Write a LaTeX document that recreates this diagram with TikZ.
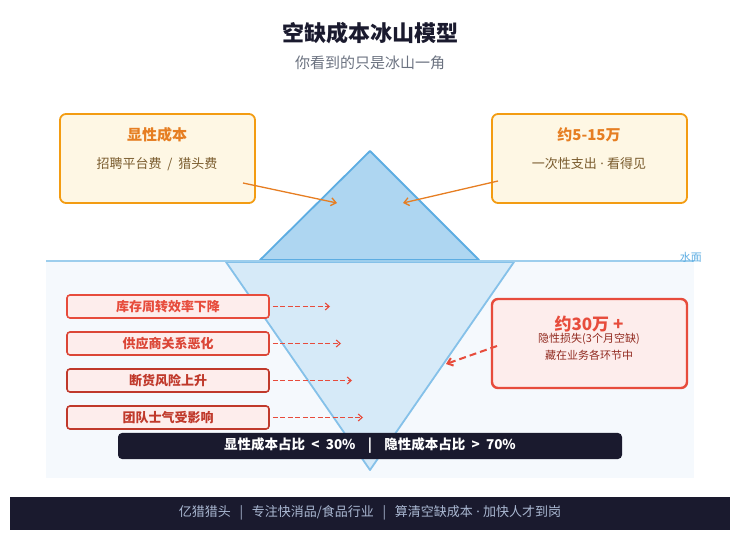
\documentclass[tikz,border=0pt]{standalone}
\usepackage{fontspec}
\setmainfont{Noto Sans CJK SC}
\newfontfamily\latinsans{Noto Sans}
\newcommand\mdot{{\latinsans\ ·\ }}
\usetikzlibrary{arrows.meta}
\definecolor{navy}{HTML}{1A1A2E}
\definecolor{subgray}{HTML}{6B7280}
\definecolor{amber}{HTML}{F39C12}
\definecolor{orangetxt}{HTML}{E67E22}
\definecolor{cream}{HTML}{FEF7E4}
\definecolor{browntxt}{HTML}{7A5C2E}
\definecolor{icetop}{HTML}{AED6F1}
\definecolor{iceedge}{HTML}{5DADE2}
\definecolor{icelow}{HTML}{D6EAF8}
\definecolor{iceloweredge}{HTML}{85C1E9}
\definecolor{waterbg}{HTML}{F5F9FD}
\definecolor{redline}{HTML}{E74C3C}
\definecolor{darkred}{HTML}{C0392B}
\definecolor{pinkfill}{HTML}{FDEDEC}
\definecolor{wine}{HTML}{922B21}
\definecolor{footfg}{HTML}{AAB8D2}
\tikzset{
  costbox/.style={draw=amber, line width=1.8pt, fill=cream, rounded corners=6pt},
  lossbox/.style={draw=#1, line width=1.6pt, fill=pinkfill, rounded corners=3pt,
    minimum width=202pt, minimum height=23pt, inner sep=0pt,
    font=\fontsize{13}{15}\selectfont\bfseries, text=#1},
  visarrow/.style={draw=orangetxt, line width=1.3pt, -{Straight Barb[length=5pt,width=8pt]}},
  hidarrow/.style={draw=redline, line width=1.1pt, dash pattern=on 5pt off 2.5pt, -{Straight Barb[length=4pt,width=7pt]}}
}
\begin{document}
\begin{tikzpicture}[x=1pt,y=-1pt]
  %%%%% START %%%%%
  \useasboundingbox (0,0) rectangle (740,540);

  \node[text=navy, font=\fontsize{22}{26}\selectfont\bfseries] (title) at (370,33) {空缺成本冰山模型};
  \node[text=subgray, font=\fontsize{15}{17}\selectfont] (subtitle) at (370,63) {你看到的只是冰山一角};

  % water
  \fill[waterbg] (46,261) rectangle (694,478);

  % iceberg above / below water
  \draw[fill=icelow, draw=iceloweredge, line width=1.8pt, line join=round] (226,262) -- (514,262) -- (370,470) -- cycle;
  \draw[fill=icetop, draw=iceedge, line width=1.8pt, line join=round] (260,260) -- (370,151) -- (479,260) -- cycle;
  \draw[iceloweredge!80, line width=2.5pt] (46,261) -- (694,261);
  \node[text=iceedge, font=\fontsize{11}{12}\selectfont, anchor=east, inner sep=1pt] (waterlabel) at (703,257) {水面};

  % visible cost boxes
  \draw[costbox] (60,114) rectangle (255,203);
  \node[text=orangetxt, font=\fontsize{15}{17}\selectfont\bfseries] (vistitle) at (157,135) {显性成本};
  \node[text=browntxt, font=\fontsize{13}{15}\selectfont] (visdesc) at (157,164) {招聘平台费\ \ /\ \ 猎头费};
  \draw[costbox] (492,114) rectangle (687,203);
  \node[text=orangetxt, font=\fontsize{15}{17}\selectfont\bfseries] (amounttitle) at (589,135) {约5-15万};
  \node[text=browntxt, font=\fontsize{13}{15}\selectfont] (amountdesc) at (589,164) {一次性支出\mdot 看得见};

  \coordinate (visL) at (243,183);
  \coordinate (tipL) at (337,203);
  \coordinate (visR) at (498,181);
  \coordinate (tipR) at (403,203);
  \draw[visarrow] (visL) -- (tipL);
  \draw[visarrow] (visR) -- (tipR);

  % hidden losses
  \node[lossbox=redline] (loss1) at (168,306.5) {库存周转效率下降};
  \node[lossbox=redline!70!darkred] (loss2) at (168,343.5) {供应商关系恶化};
  \node[lossbox=darkred] (loss3) at (168,380.5) {断货风险上升};
  \node[lossbox=darkred] (loss4) at (168,417.5) {团队士气受影响};
  \coordinate (end1) at (330,306.5);
  \coordinate (end2) at (341,343.5);
  \coordinate (end3) at (352,380.5);
  \coordinate (end4) at (363,417.5);
  \foreach \i in {1,...,4}
    \draw[hidarrow] ([xshift=3pt]loss\i.east) -- (end\i);

  % hidden cost box
  \draw[draw=redline, line width=2.4pt, fill=pinkfill, rounded corners=6pt] (492,299) rectangle (687,388);
  \node[text=redline, font=\fontsize{17}{19}\selectfont\bfseries] (hidtitle) at (589,324) {约30万 +};
  \node[text=wine, font=\fontsize{11}{12}\selectfont] (hiddesc) at (589,339) {隐性损失(3个月空缺)};
  \node[text=wine, font=\fontsize{11}{12}\selectfont] (hidwhere) at (589,355) {藏在业务各环节中};
  \coordinate (hidS) at (497,346);
  \coordinate (hidT) at (446,364);
  \draw[draw=redline, line width=2pt, dash pattern=on 7pt off 4pt, -{Straight Barb[length=5pt,width=8pt]}] (hidS) -- (hidT);

  % ratio bar
  \fill[navy, rounded corners=4pt] (118,433) rectangle (622,459);
  \node[text=white, font=\fontsize{13.5}{15}\selectfont\bfseries] (ratio) at (370,446) {显性成本占比\ \ <\ \ 30\%\ \ \ \ |\ \ \ \ 隐性成本占比\ \ >\ \ 70\%};

  % footer
  \fill[navy] (10,497) rectangle (730,530);
  \node[text=footfg, font=\fontsize{13}{15}\selectfont] (footer) at (370,513) {亿猎猎头\ \ \ |\ \ \ 专注快消品/食品行业\ \ \ |\ \ \ 算清空缺成本\mdot 加快人才到岗};
  %%%%% END %%%%%
\end{tikzpicture}
\end{document}
